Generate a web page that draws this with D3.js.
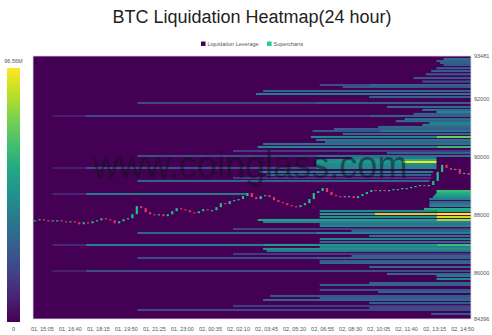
<!DOCTYPE html>
<html>
<head>
<meta charset="utf-8">
<title>BTC Liquidation Heatmap</title>
<script src="https://d3js.org/d3.v7.min.js"></script>
<style>
  body { margin: 0; background: #fff; }
  svg text { font-family: "Liberation Sans", Arial, sans-serif; }
</style>
</head>
<body>
<div id="chart"></div>
<script>
// ---- data ----
var title = "BTC Liquidation Heatmap(24 hour)";
var legendNames = ["Liquidation Leverage", "Supercharts"];
var legendColors = ["#440154", "#22c993"];

var timeStart = new Date(2025, 2, 1, 14, 35),
    timeEnd = new Date(2025, 2, 2, 15, 20);
var tickTimes = [
  "01 15:05", "01 16:40", "01 18:15", "01 19:50", "01 21:25", "01 23:00",
  "02 00:35", "02 02:10", "02 03:45", "02 05:20", "02 06:55", "02 08:30",
  "02 10:05", "02 11:40", "02 13:15", "02 14:50"
];
var priceTicks = [93481, 92000, 90000, 88000, 86000, 84396];
var colorMax = 96.56; // M

// 15 minute closes from 01 14:35
var firstOpen = 87790;
var closes = [
  87807, 87842, 87807, 87772, 87807, 87807, 87772, 87737, 87772, 87737,
  87668, 87737, 87703, 87772, 87807, 87877, 87842, 87807, 87703, 87772,
  87842, 87877, 88016, 88294, 88225, 88085, 88016, 87981, 88016, 87946,
  88016, 88120, 88225, 88190, 88155, 88085, 88051, 88120, 88190, 88155,
  88155, 88259, 88399, 88364, 88468, 88503, 88538, 88642, 88747, 88608,
  88538, 88642, 88677, 88608, 88503, 88434, 88399, 88329, 88294, 88259,
  88329, 88399, 88538, 88747, 88816, 88921, 88782, 88677, 88642, 88608,
  88642, 88642, 88573, 88642, 88712, 88782, 88851, 88816, 88851, 88816,
  88851, 88886, 88886, 88921, 88921, 88956, 88990, 89025, 88990, 89025,
  89165, 89478, 89722, 89617, 89548, 89582, 89408, 89443, 89373
];

// liquidation levels: [price, from hour, to hour, value in M]  (hours since 01 14:35)
var binSize = 72;
var levels = [
  [91409, 1.1, 3.0, 8], [91409, 3.0, 19.0, 20], [91409, 19.0, 24.75, 28],
  [89613, 1.1, 3.0, 8], [89613, 3.0, 16.0, 24], [89613, 16.0, 22.8, 45],
  [88714, 1.1, 3.0, 10], [88714, 3.0, 12.1, 38],
  [86953, 1.1, 3.0, 10], [86953, 3.0, 13.0, 40], [86953, 13.0, 22.8, 52], [86953, 22.8, 24.75, 66],
  [86055, 1.1, 3.0, 8], [86055, 3.0, 24.75, 22],

  [91858, 5.9, 16.0, 20], [91858, 16.0, 24.75, 28],
  [90027, 5.9, 16.0, 22], [90027, 16.0, 24.75, 34],
  [89163, 5.9, 22.4, 30],
  [87367, 5.9, 16.0, 30], [87367, 16.0, 24.75, 42],
  [86504, 5.9, 16.0, 22], [86504, 16.0, 24.75, 30],
  [84708, 5.9, 24.75, 20],

  [90200, 11.3, 24.75, 16],
  [89267, 11.3, 22.5, 16],
  [87505, 11.3, 24.75, 18],
  [86642, 11.3, 24.75, 16],
  [84846, 11.3, 24.75, 16],

  [92272, 13.0, 24.75, 30], [92169, 12.6, 24.75, 38],
  [90441, 13.0, 24.75, 36], [90338, 12.7, 22.8, 44], [90338, 22.8, 24.75, 64],
  [89474, 12.8, 22.6, 42], [89371, 13.2, 22.5, 30],
  [87816, 12.7, 22.8, 55], [87816, 22.8, 24.75, 82], [87747, 13.0, 24.75, 42],
  [86815, 13.0, 24.75, 48], [86746, 13.2, 24.75, 38],
  [85053, 13.0, 24.75, 32], [85192, 13.4, 24.75, 26],

  [92479, 16.2, 19.0, 22], [92479, 19.0, 24.75, 30], [92410, 17.5, 24.75, 26],
  [92065, 19.0, 24.75, 28],
  [91720, 20.0, 24.75, 32],
  [91300, 21.0, 24.75, 36],
  [91030, 19.5, 24.75, 32],
  [90960, 17.0, 24.75, 28],
  [90890, 15.8, 19.6, 26], [90890, 19.6, 24.75, 38],
  [90790, 17.5, 24.75, 34],
  [90683, 15.7, 22.8, 44], [90683, 22.8, 24.75, 75],
  [90580, 16.0, 24.75, 38],
  [90510, 16.5, 24.75, 32],
  [90130, 20.0, 24.75, 30],
  [89960, 18.0, 22.8, 40],
  [89889, 16.0, 20.9, 48], [89889, 20.9, 22.8, 60],
  [89820, 16.0, 20.9, 52], [89820, 20.9, 22.8, 95],
  [89751, 16.0, 22.8, 46],
  [89682, 16.0, 22.8, 44],
  [88127, 16.2, 22.8, 45], [88127, 22.8, 24.75, 55],
  [88023, 16.2, 19.3, 55], [88023, 19.3, 22.8, 86], [88023, 22.8, 24.75, 96],
  [87920, 16.2, 22.8, 50], [87920, 22.8, 24.75, 88],
  [87680, 16.2, 24.75, 38],
  [87609, 16.2, 24.75, 44],
  [87440, 18.0, 24.75, 32],
  [87264, 19.0, 24.75, 36],
  [87160, 16.2, 24.75, 42],
  [87056, 16.2, 24.75, 32],
  [86880, 16.2, 24.75, 44],
  [86570, 18.0, 24.75, 30],
  [86400, 16.2, 24.75, 28],
  [86331, 16.2, 24.75, 32],
  [86193, 19.0, 24.75, 32],
  [85950, 20.0, 24.75, 32],
  [85640, 19.0, 24.75, 30],
  [85571, 16.2, 24.75, 30],
  [85399, 16.2, 24.75, 24],
  [85330, 19.5, 24.75, 30],
  [85120, 16.2, 24.75, 28],
  [84950, 19.0, 24.75, 28],
  [84780, 19.0, 24.75, 24],

  [93377, 23.2, 24.75, 34], [93308, 22.8, 24.75, 30], [93240, 23.0, 24.75, 28],
  [93170, 23.2, 24.75, 25], [93060, 22.8, 24.75, 30],
  [92963, 22.5, 24.75, 28], [92850, 22.2, 24.75, 26],
  [92721, 21.5, 24.75, 26], [92600, 22.0, 24.75, 26],
  [91620, 22.0, 24.75, 36],
  [91547, 22.8, 24.75, 45],
  [91480, 21.5, 24.75, 30],
  [91230, 20.5, 24.75, 34],
  [91167, 22.4, 24.75, 42],
  [91100, 22.0, 24.75, 40],
  [88818, 22.8, 24.75, 66],
  [88750, 22.8, 24.75, 60],
  [88680, 22.7, 24.75, 55],
  [88611, 22.6, 24.75, 48],
  [88540, 22.4, 24.75, 40],
  [88438, 22.4, 24.75, 30],
  [88370, 22.4, 24.75, 38],
  [88300, 22.4, 24.75, 45],
  [88196, 22.1, 24.75, 60],
  [85882, 22.8, 24.75, 40],
  [85778, 22.8, 24.75, 45],
  [84570, 22.5, 24.75, 25]
];

// ---- layout ----
var width = 492, height = 335;
var plot = {left: 33, right: 471, top: 56, bottom: 319};

var svg = d3.select("#chart").append("svg")
    .attr("width", width)
    .attr("height", height);

var x = d3.scaleTime()
    .domain([timeStart, timeEnd])
    .range([plot.left, plot.right]);
var y = d3.scaleLinear()
    .domain([d3.min(priceTicks), d3.max(priceTicks)])
    .range([plot.bottom, plot.top]);
var color = d3.scaleSequential(d3.interpolateViridis).domain([0, colorMax]);

function hourTime(h) { return d3.timeMinute.offset(timeStart, Math.round(h * 60)); }
var parseTick = d3.timeParse("%d %H:%M");
var ticks = tickTimes.map(function(s) {
  var t = parseTick(s);
  return new Date(2025, 2, t.getDate(), t.getHours(), t.getMinutes());
});

// title
svg.append("text")
    .attr("x", 252).attr("y", 23)
    .attr("text-anchor", "middle")
    .attr("font-size", 18)
    .attr("fill", "#222")
    .text(title);

// legend
var leg = svg.append("g").attr("transform", "translate(201,41.5)");
var lx = 0;
legendNames.forEach(function(n, i) {
  leg.append("rect").attr("x", lx).attr("y", 0).attr("width", 4.5).attr("height", 4.5)
      .attr("fill", legendColors[i]);
  var t = leg.append("text").attr("x", lx + 6.5).attr("y", 4.3)
      .attr("font-size", 5.5).attr("fill", "#555").text(n);
  lx += t.node().getComputedTextLength() + 15;
});

// heatmap
svg.append("rect")
    .attr("x", plot.left).attr("y", plot.top)
    .attr("width", plot.right - plot.left).attr("height", plot.bottom - plot.top)
    .attr("fill", color(0));

svg.append("g").selectAll("rect")
    .data(levels.slice().sort(function(a, b) { return a[3] - b[3]; }))
    .join("rect")
    .attr("x", function(d) { return x(hourTime(d[1])); })
    .attr("width", function(d) { return x(hourTime(d[2])) - x(hourTime(d[1])); })
    .attr("y", function(d) { return y(d[0] + binSize / 2); })
    .attr("height", function(d) { return y(d[0] - binSize / 2) - y(d[0] + binSize / 2); })
    .attr("fill", function(d) { return color(d[3]); });

// watermark
svg.append("text")
    .attr("x", 250).attr("y", 178)
    .attr("text-anchor", "middle")
    .attr("font-size", 38)
    .attr("textLength", 315)
    .attr("lengthAdjust", "spacingAndGlyphs")
    .attr("fill", "rgba(15,15,25,0.5)")
    .text("www.coinglass.com");

// candles
var candles = closes.map(function(c, i) {
  return {t: d3.timeMinute.offset(timeStart, 15 * i + 7), o: i ? closes[i - 1] : firstOpen, c: c};
});
svg.append("g").selectAll("rect")
    .data(candles)
    .join("rect")
    .attr("x", function(d) { return x(d.t) - 1.1; })
    .attr("width", 2.2)
    .attr("y", function(d) { return y(Math.max(d.o, d.c)); })
    .attr("height", function(d) { return Math.max(1.2, Math.abs(y(d.o) - y(d.c))); })
    .attr("fill", function(d) { return d.c >= d.o ? "#1fc28f" : "#e8336a"; });

// border
svg.append("rect")
    .attr("x", plot.left).attr("y", plot.top)
    .attr("width", plot.right - plot.left).attr("height", plot.bottom - plot.top)
    .attr("fill", "none").attr("stroke", "#dcd8e6").attr("stroke-width", 0.8);

// x axis
var fmt = d3.timeFormat("%d, %H:%M");
svg.append("g")
    .attr("transform", "translate(0," + (plot.bottom + 5) + ")")
    .call(d3.axisBottom(x).tickValues(ticks).tickFormat(fmt).tickSize(0))
    .call(function(g) { g.select(".domain").remove(); })
    .selectAll("text")
    .attr("font-size", 5.5).attr("fill", "#555")
    .style("font-family", "Liberation Sans, Arial, sans-serif");

// right price axis
svg.append("g").selectAll("text")
    .data(priceTicks)
    .join("text")
    .attr("x", plot.right + 3)
    .attr("y", function(d) { return y(d) + 2; })
    .attr("font-size", 5.5).attr("fill", "#555")
    .text(function(d) { return d; });

// colour bar
var grad = svg.append("defs").append("linearGradient")
    .attr("id", "cbar").attr("x1", 0).attr("y1", 1).attr("x2", 0).attr("y2", 0);
d3.range(0, 1.01, 0.1).forEach(function(t) {
  grad.append("stop").attr("offset", t).attr("stop-color", d3.interpolateViridis(t));
});
svg.append("rect")
    .attr("x", 7).attr("y", 68).attr("width", 13).attr("height", 254)
    .attr("fill", "url(#cbar)");
svg.append("text").attr("x", 13.5).attr("y", 63).attr("text-anchor", "middle")
    .attr("font-size", 5.5).attr("fill", "#555").text(colorMax + "M");
svg.append("text").attr("x", 13.5).attr("y", 331).attr("text-anchor", "middle")
    .attr("font-size", 5.5).attr("fill", "#555").text("0");
</script>
</body>
</html>
